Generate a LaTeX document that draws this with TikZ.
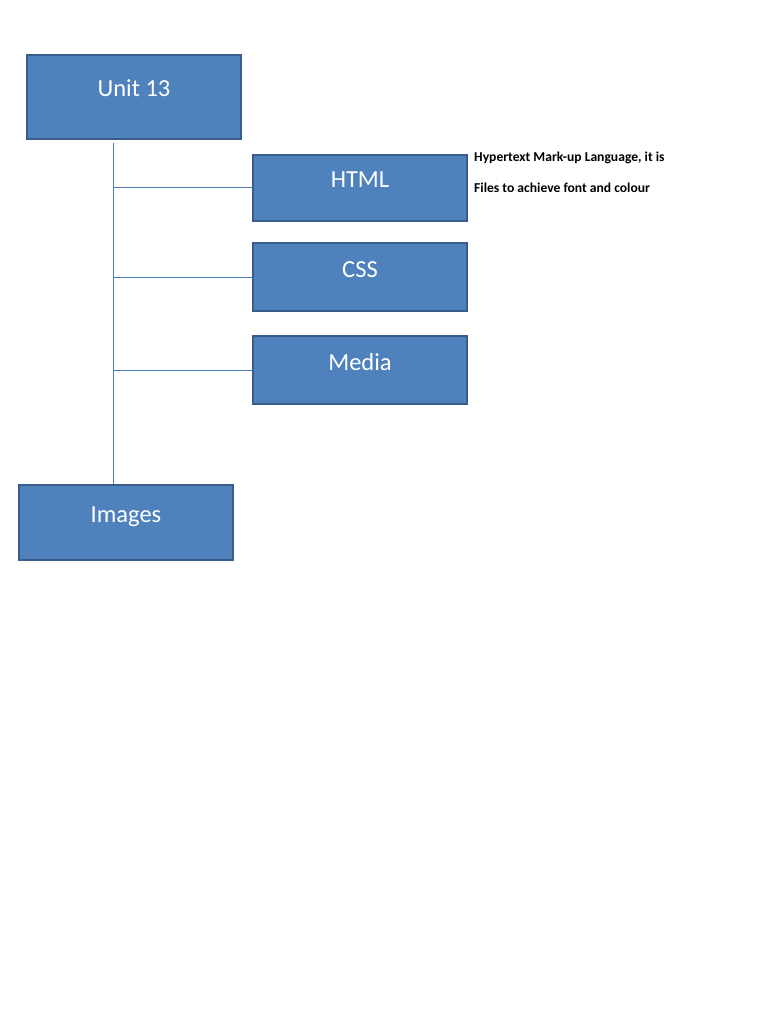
\documentclass[tikz,border=0pt]{standalone}
\usepackage{fontspec}
\setmainfont{Carlito}
\usepackage{tikz}
\usetikzlibrary{positioning}
\definecolor{boxfill}{HTML}{4F81BD}
\definecolor{boxline}{HTML}{385D8A}
\definecolor{linkline}{HTML}{4A7EBB}

\begin{document}
\begin{tikzpicture}[
  x=1pt, y=-1pt,
  box/.style={rectangle, draw=boxline, line width=1.8pt, fill=boxfill, text=white, minimum width=214pt, font=\fontsize{24.5}{28}\selectfont, text height=10pt, text depth=10pt, inner sep=0pt},
  note/.style={font=\bfseries\fontsize{13.6}{15}\selectfont, anchor=base west, inner sep=0pt},
  link/.style={draw=linkline, line width=1pt},
]
  \useasboundingbox (0,0) rectangle (768,1024);

  % boxes
  \node[box, minimum height=84pt] (unit) at (134,97) {Unit 13};
  \node[box, minimum height=66pt] (html) at (360,188) {HTML};
  \node[box, minimum height=68pt] (css) at (360,277) {CSS};
  \node[box, minimum height=68pt] (media) at (360,370) {Media};
  \node[box, minimum height=75pt] (images) at (126,522.5) {Images};

  % notes next to HTML
  \node[note] (hyper) at (474,162) {Hypertext Mark-up Language, it is};
  \node[note] (files) at (474,193) {Files to achieve font and colour};

  % trunk and branches
  \coordinate (trunk) at (113,143);
  \draw[link] (trunk) -- (trunk |- images.north);
  \draw[link] (trunk |- html.west) -- (html.west);
  \draw[link] (trunk |- css.west) -- (css.west);
  \draw[link] (trunk |- media.west) -- (media.west);
\end{tikzpicture}
\end{document}
